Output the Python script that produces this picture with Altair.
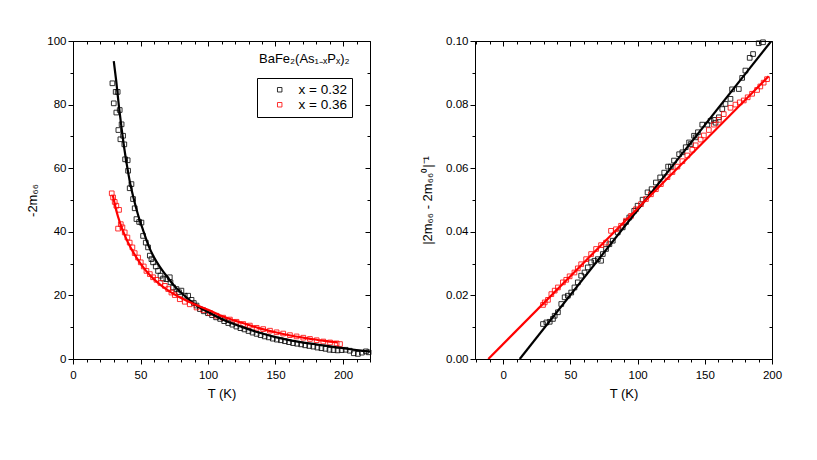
import altair as alt
import pandas as pd

FONT = "Liberation Sans"
SERIES = ["x = 0.32", "x = 0.36"]
COLORS = ["#000000", "#ff0000"]
LEGEND_TITLE = "BaFe\u2082(As\u2081\u208b\u2093P\u2093)\u2082"
X_TITLE = "T (K)"
Y1_TITLE = "-2m\u2086\u2086"
Y2_TITLE = "|2m\u2086\u2086 - 2m\u2086\u2086\u2070|\u207b\u00b9"

# ---------------- left panel data: -2m66 vs T ----------------
L_T_032 = [29.2, 30.2, 31.6, 33.1, 32.1, 34.6, 33.6, 36.0, 35.1, 37.1,
           38.0, 38.6, 40.5, 40.8, 43.3, 42.0, 44.5, 45.7, 47.0, 49.0,
           50.7, 51.9, 53.9, 55.6, 56.9, 58.1, 59.3, 61.3, 63.0, 64.8,
           66.7, 69.2, 71.7, 72.2, 74.2, 76.6, 78.5, 80.3, 82.8, 85.3,
           87.8, 89.5, 91.5, 94, 97, 100, 103, 106, 109, 112,
           115, 118, 121, 124, 127, 130, 133, 136, 139, 142,
           145, 148, 151, 154, 157, 160, 163, 166, 169, 172,
           175, 178, 181, 184, 187, 190, 193, 196, 199, 202,
           205, 208, 211, 214, 217, 219]
L_Y_032 = [86.7, 80.4, 84.0, 84.0, 77.5, 78.3, 72.0, 73.8, 69.1, 70.2,
           67.5, 62.8, 62.5, 59.2, 55.0, 53.7, 50.3, 47.4, 44.0, 43.1,
           42.9, 38.7, 36.6, 35.1, 32.5, 31.4, 30.4, 29.1, 27.7, 26.2,
           25.3, 25.1, 25.7, 24.1, 22.5, 22.0, 21.0, 21.5, 19.9, 19.9,
           18.6, 17.6, 16.8, 15.7, 15.0, 14.4, 13.8, 13.1, 12.6, 11.9,
           11.3, 10.8, 10.2, 9.7, 9.3, 8.8, 8.3, 7.9, 7.5, 7.1,
           6.8, 6.4, 6.1, 5.9, 5.6, 5.3, 5.0, 4.8, 4.6, 4.3,
           4.1, 3.9, 3.6, 3.4, 3.2, 2.9, 2.8, 2.7, 2.8, 2.9,
           2.6, 1.8, 1.6, 2.0, 2.4, 2.1]
L_T_036 = [28.7, 29.7, 30.9, 32.1, 34.1, 33.4, 35.4, 36.6, 38.3, 40.3,
           42.0, 44.0, 45.7, 48.2, 50.2, 52.4, 54.4, 56.9, 59.3, 61.8,
           64.8, 68.0, 70.5, 72.9, 75.4, 79.1, 82.8, 86.5, 91.5, 96.4,
           101.4, 106.3, 111.2, 116.2, 121.1, 126.1, 131.0, 136.0, 140.9, 145.9,
           150.8, 155.7, 160.7, 165.6, 170.6, 175.5, 180.5, 185.4, 190.4, 195.3,
           197.8]
L_Y_036 = [52.1, 50.8, 49.4, 48.2, 46.9, 41.0, 42.4, 41.4, 39.8, 38.2,
           36.6, 35.1, 33.3, 31.9, 30.4, 29.1, 27.7, 26.7, 25.7, 24.9,
           23.9, 23.0, 22.0, 20.9, 20.1, 18.8, 18.0, 17.2, 16.2, 15.4,
           14.5, 13.6, 13.0, 12.4, 11.7, 11.0, 10.5, 9.8, 9.4, 8.9,
           8.4, 8.0, 7.5, 7.1, 6.7, 6.3, 5.9, 5.5, 5.2, 4.9,
           4.7]
# fitted curves
LF_T_032 = [30.2, 32, 34, 36, 38, 40, 42, 45, 48, 52, 56, 60, 65, 70, 75, 80, 90, 100,
            112, 125, 137, 150, 162, 175, 187, 200, 210, 220]
LF_Y_032 = [93.7, 87.5, 79.5, 72.5, 66.2, 60.8, 56.0, 50.4, 45.6, 40.4, 35.6, 32.0, 28.6,
            25.7, 23.0, 20.9, 17.3, 14.8, 12.2, 10.1, 8.4, 6.9, 5.8, 4.9, 4.2, 3.4, 2.8, 2.3]
LF_T_036 = [29.5, 32, 35, 40, 45, 50, 57, 65, 72, 79, 90, 100, 112, 125, 137, 150, 162,
            175, 186, 196]
LF_Y_036 = [51.5, 46.8, 42.6, 37.3, 33.3, 30.0, 26.3, 23.2, 21.1, 19.4, 17.2, 15.5, 13.2,
            11.4, 9.8, 8.4, 7.3, 6.4, 5.7, 5.2]

# ---------------- right panel data: |2m66 - 2m66^0|^-1 vs T ----------------
R_T_032 = [29.6, 32.1, 34.6, 37.0, 38.3, 40.7, 43.2, 45.7, 48.1, 50.6,
           53.0, 55.5, 58.0, 60.5, 62.9, 65.4, 67.9, 70.4, 72.8, 74.1,
           76.5, 79.0, 81.5, 85.2, 88.9, 91.4, 93.8, 97.5, 100.0, 103.7,
           107.4, 110.4, 113.6, 116.8, 119.8, 122.7, 124.7, 127.1, 130.9, 133.3,
           135.8, 138.3, 139.5, 142.0, 143.2, 144.9, 148.1, 151.9, 154.3, 156.8,
           158.0, 160.5, 163.0, 165.4, 169.1, 170.3, 175.3, 177.8, 180.2, 183.4,
           185.9, 190.1, 193.3]
R_Y_032 = [0.0110, 0.0115, 0.0117, 0.0126, 0.0136, 0.0147, 0.0173, 0.0194, 0.0199, 0.0209,
           0.0225, 0.0241, 0.0262, 0.0272, 0.0288, 0.0304, 0.0309, 0.0314, 0.0309, 0.0330,
           0.0346, 0.0361, 0.0372, 0.0398, 0.0414, 0.0431, 0.0445, 0.0466, 0.0482, 0.0501,
           0.0524, 0.0534, 0.0555, 0.0571, 0.0586, 0.0605, 0.0605, 0.0624, 0.0644, 0.0650,
           0.0666, 0.0681, 0.0676, 0.0702, 0.0697, 0.0713, 0.0737, 0.0737, 0.0749, 0.0752,
           0.0743, 0.0760, 0.0786, 0.0802, 0.0818, 0.0848, 0.0849, 0.0884, 0.0907, 0.0947,
           0.0959, 0.0993, 0.0996]
R_T_036 = [29.6, 30.9, 33.3, 35.8, 38.3, 40.7, 44.4, 46.9, 49.4, 53.0,
           55.5, 58.0, 61.7, 65.4, 69.1, 72.8, 76.5, 80.2, 83.9, 87.7,
           91.4, 95.1, 98.8, 102.5, 106.2, 109.9, 113.6, 117.3, 122.2, 125.9,
           129.6, 133.3, 137.0, 140.7, 143.2, 146.9, 149.3, 153.0, 156.8, 160.5,
           164.1, 169.1, 172.8, 176.0, 179.0, 181.9, 185.2, 188.9, 191.3, 193.8,
           196.3]
R_Y_036 = [0.0170, 0.0178, 0.0186, 0.0204, 0.0215, 0.0225, 0.0241, 0.0249, 0.0260, 0.0272,
           0.0285, 0.0298, 0.0314, 0.0330, 0.0346, 0.0358, 0.0366, 0.0403, 0.0408, 0.0419,
           0.0435, 0.0450, 0.0471, 0.0487, 0.0503, 0.0518, 0.0534, 0.0550, 0.0572, 0.0588,
           0.0605, 0.0622, 0.0640, 0.0658, 0.0672, 0.0690, 0.0703, 0.0720, 0.0737, 0.0752,
           0.0770, 0.0790, 0.0800, 0.0807, 0.0813, 0.0823, 0.0834, 0.0846, 0.0857, 0.0869,
           0.0880]
RF_T_032 = [12.3, 199.5]
RF_Y_032 = [0.0, 0.100]
RF_T_036 = [-11.1, 197.5]
RF_Y_036 = [0.0, 0.0889]

# ---------------- tick values ----------------
L_X_TICKS = [0, 10, 20, 30, 40, 50, 60, 70, 80, 90, 100, 110, 120, 130, 140, 150,
             160, 170, 180, 190, 200, 210, 220]
L_X_MAJOR = [0, 50, 100, 150, 200]
L_Y_TICKS = [0, 10, 20, 30, 40, 50, 60, 70, 80, 90, 100]
L_Y_MAJOR = [0, 20, 40, 60, 80, 100]
R_X_TICKS = [-20, -10, 0, 10, 20, 30, 40, 50, 60, 70, 80, 90, 100, 110, 120, 130, 140,
             150, 160, 170, 180, 190, 200]
R_X_MAJOR = [0, 50, 100, 150, 200]
R_Y_TICKS = [0.0, 0.01, 0.02, 0.03, 0.04, 0.05, 0.06, 0.07, 0.08, 0.09, 0.10]
R_Y_MAJOR = [0.0, 0.02, 0.04, 0.06, 0.08, 0.10]


def frame(ts, ys, label):
    return pd.DataFrame({"T": ts, "v": ys, "s": label})


left_pts = pd.concat([frame(L_T_032, L_Y_032, SERIES[0]), frame(L_T_036, L_Y_036, SERIES[1])])
left_fit = pd.concat([frame(LF_T_032, LF_Y_032, SERIES[0]), frame(LF_T_036, LF_Y_036, SERIES[1])])
right_pts = pd.concat([frame(R_T_032, R_Y_032, SERIES[0]), frame(R_T_036, R_Y_036, SERIES[1])])
right_fit = pd.concat([frame(RF_T_032, RF_Y_032, SERIES[0]), frame(RF_T_036, RF_Y_036, SERIES[1])])

BASE = dict(grid=False, domainColor="black", tickColor="black", labelColor="black",
            titleColor="black", labelFont=FONT, titleFont=FONT, labelFontSize=11.5,
            titleFontSize=13, titleFontWeight="normal", labelFlush=False,
            labelOverlap=False, tickWidth=1, domainWidth=1)


def main_axis(orient, values, test, title, fmt=None, label_pad=2, title_pad=7):
    kw = dict(BASE)
    if fmt:
        kw["format"] = fmt
    return alt.Axis(orient=orient, values=values,
                    labelExpr="(" + test + ") ? datum.label : ''",
                    tickSize={"condition": {"test": test, "value": 5}, "value": 3},
                    title=title, labelPadding=label_pad, titlePadding=title_pad, **kw)


def inner_axis(orient, values, size):
    return alt.Axis(orient=orient, values=values, labels=False, title=None, domain=False,
                    grid=False, tickSize=size, offset=-size, tickColor="black",
                    tickWidth=1, minExtent=0)


def panel(pts, fit, xdom, ydom, xticks, xmajor, xtest, yticks, ymajor, ytest,
          ytitle, yfmt, ytp, legend, interp):
    xs = alt.Scale(domain=xdom, nice=False, zero=False)
    ys = alt.Scale(domain=ydom, nice=False, zero=False)
    cs = alt.Scale(domain=SERIES, range=COLORS)
    xminor = [t for t in xticks if t not in xmajor]
    yminor = [t for t in yticks if t not in ymajor]
    p = alt.Chart(pts).mark_point(shape="square", filled=False, size=22,
                                  strokeWidth=0.9, opacity=0.9).encode(
        x=alt.X("T:Q", scale=xs, axis=main_axis("bottom", xticks, xtest, X_TITLE,
                                                label_pad=5, title_pad=7)),
        y=alt.Y("v:Q", scale=ys, axis=main_axis("left", yticks, ytest, ytitle,
                                                fmt=yfmt, title_pad=ytp)),
        color=alt.Color("s:N", scale=cs, legend=legend),
    )
    f = alt.Chart(fit).mark_line(strokeWidth=2.2, clip=True, interpolate=interp).encode(
        x=alt.X("T:Q", scale=xs, axis=inner_axis("top", xmajor, 5)),
        y=alt.Y("v:Q", scale=ys, axis=inner_axis("right", ymajor, 5)),
        color=alt.Color("s:N", scale=cs, legend=None),
        detail="s:N",
    )
    g = alt.Chart(fit).mark_line(opacity=0).encode(
        x=alt.X("T:Q", scale=xs, axis=inner_axis("top", xminor, 3)),
        y=alt.Y("v:Q", scale=ys, axis=inner_axis("right", yminor, 3)),
        detail="s:N",
    )
    return alt.layer(p, f, g).resolve_axis(x="independent", y="independent")


# legend square drawn a little to the right of its slot (unit path, scaled by size)
LEGEND_SQUARE = "M3.9,-1L5.9,-1L5.9,1L3.9,1Z"

legend = alt.Legend(title=None, orient="none", legendX=184, legendY=37,
                    direction="vertical", strokeColor="black", fillColor="white",
                    padding=5, symbolType=LEGEND_SQUARE, symbolSize=20,
                    symbolStrokeWidth=0.9, labelFont=FONT, labelFontSize=13.5,
                    labelColor="black", labelOffset=23, symbolOffset=0,
                    rowPadding=0)

left = panel(left_pts, left_fit, [0, 220], [0, 100], L_X_TICKS, L_X_MAJOR,
             "datum.value % 50 === 0", L_Y_TICKS, L_Y_MAJOR, "datum.value % 20 === 0",
             Y1_TITLE, None, 7, legend, "monotone").properties(
    width=297, height=318,
    title=alt.TitleParams(text=LEGEND_TITLE, anchor="start", frame="group", orient="top",
                          offset=-41, dx=186, baseline="alphabetic", font=FONT,
                          fontSize=13, fontWeight="normal", color="black"))

right = panel(right_pts, right_fit, [-21, 200], [0, 0.1], R_X_TICKS, R_X_MAJOR,
              "datum.value % 50 === 0", R_Y_TICKS, R_Y_MAJOR,
              "round(datum.value * 100) % 2 === 0",
              Y2_TITLE, ".2f", 11, None, "linear").properties(width=297, height=318)

chart = alt.hconcat(left, right, spacing=47).resolve_scale(color="independent").properties(
    padding={"left": 18, "top": 26, "right": 5, "bottom": 5}
).configure_view(stroke="black", strokeWidth=1)

chart.save("out.html", embed_options={"renderer": "svg", "actions": False})
